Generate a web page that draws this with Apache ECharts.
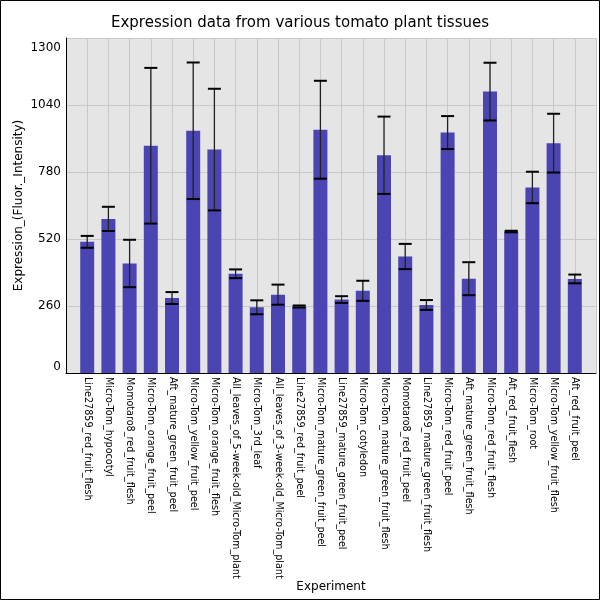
<!DOCTYPE html>
<html>
<head>
<meta charset="utf-8">
<script src="https://cdn.jsdelivr.net/npm/echarts@6/dist/echarts.min.js"></script>
<style>
html,body{margin:0;padding:0;background:#fff;}
#main{width:600px;height:600px;}
</style>
</head>
<body>
<div id="main"></div>
<script>
const categories = [
  "Line27859_red_fruit_flesh",
  "Micro-Tom_hypocotyl",
  "Momotaro8_red_fruit_flesh",
  "Micro-Tom_orange_fruit_peel",
  "Aft_mature_green_fruit_peel",
  "Micro-Tom_yellow_fruit_peel",
  "Micro-Tom_orange_fruit_flesh",
  "All_leaves_of_5-week-old_Micro-Tom_plant",
  "Micro-Tom_3rd_leaf",
  "All_leaves_of_3-week-old_Micro-Tom_plant",
  "Line27859_red_fruit_peel",
  "Micro-Tom_mature_green_fruit_peel",
  "Line27859_mature_green_fruit_peel",
  "Micro-Tom_cotyledon",
  "Micro-Tom_mature_green_fruit_flesh",
  "Momotaro8_red_fruit_peel",
  "Line27859_mature_green_fruit_flesh",
  "Micro-Tom_red_fruit_peel",
  "Aft_mature_green_fruit_flesh",
  "Micro-Tom_red_fruit_flesh",
  "Aft_red_fruit_flesh",
  "Micro-Tom_root",
  "Micro-Tom_yellow_fruit_flesh",
  "Aft_red_fruit_peel"
];
const values = [509, 598, 425, 882, 291, 940, 867, 385, 255, 304, 258, 944, 285, 319, 845, 452, 264, 933, 366, 1092, 549, 720, 892, 365];
const errors = [23, 47, 92, 302, 23, 265, 236, 17, 27, 39, 4, 190, 13, 39, 150, 49, 19, 64, 64, 112, 3, 61, 114, 17];
const yTicks = [0, 260, 520, 780, 1040, 1300];

const barData = values.map((v, i) => [i, v]);
const errData = values.map((v, i) => [i, v - errors[i], v + errors[i]]);

const chart = echarts.init(document.getElementById('main'), null, {renderer: 'canvas'});
const FONT = 'DejaVu Sans';
const yMax = yTicks[yTicks.length - 1];
chart.setOption({
  animation: false,
  backgroundColor: '#ffffff',
  textStyle: {fontFamily: FONT},
  title: {
    text: 'Expression data from various tomato plant tissues',
    left: 'center',
    top: 11,
    textStyle: {fontFamily: FONT, fontSize: 15, fontWeight: 'normal', color: '#000'}
  },
  grid: {left: 66, right: 4, top: 38, bottom: 227, backgroundColor: '#e5e5e5', show: true, borderWidth: 0,
         containLabel: false, outerBoundsMode: 'none'},
  xAxis: {
    type: 'value',
    min: -1,
    max: categories.length,
    interval: 1,
    name: 'Experiment',
    nameLocation: 'middle',
    nameGap: 208,
    nameMoveOverlap: false,
    nameTextStyle: {fontFamily: FONT, fontSize: 12, color: '#000'},
    axisLine: {show: true, onZero: false, lineStyle: {color: '#000', width: 1}},
    axisTick: {show: false},
    splitLine: {show: true, lineStyle: {color: '#c8c8c8', width: 1}},
    axisLabel: {
      rotate: -90,
      margin: 4,
      fontSize: 9.6,
      fontFamily: FONT,
      color: '#000',
      showMinLabel: true,
      showMaxLabel: true,
      formatter: function (v) { return categories[v] !== undefined ? categories[v] : ''; }
    }
  },
  yAxis: {
    type: 'value',
    min: yTicks[0],
    max: yMax,
    interval: yTicks[1] - yTicks[0],
    name: 'Expression_(Fluor._Intensity)',
    nameLocation: 'middle',
    nameGap: 41,
    nameRotate: 90,
    nameMoveOverlap: false,
    nameTextStyle: {fontFamily: FONT, fontSize: 12, color: '#000'},
    axisLine: {show: true, onZero: false, lineStyle: {color: '#000', width: 1}},
    axisTick: {show: false},
    splitLine: {show: true, lineStyle: {color: '#c8c8c8', width: 1}},
    axisLabel: {
      fontSize: 12,
      fontFamily: FONT,
      color: '#000',
      margin: 5,
      verticalAlignMinLabel: 'bottom',
      verticalAlignMaxLabel: 'top',
      formatter: function (v) { return v === yMax ? '{t|' + v + '}' : String(v); },
      rich: {t: {fontSize: 12, fontFamily: FONT, color: '#000', padding: [4, 0, 0, 0]}}
    }
  },
  series: [
    {
      type: 'bar',
      data: barData,
      barWidth: 14,
      itemStyle: {color: '#4b45b3'},
      z: 2
    },
    {
      type: 'custom',
      data: errData,
      z: 3,
      renderItem: function (params, api) {
        const x = api.value(0);
        const lo = api.coord([x, api.value(1)]);
        const hi = api.coord([x, api.value(2)]);
        const hw = 6.5;
        return {
          type: 'group',
          children: [
            {type: 'line', shape: {x1: lo[0], y1: lo[1], x2: hi[0], y2: hi[1]}, style: {stroke: '#222', lineWidth: 1.3}},
            {type: 'line', shape: {x1: lo[0] - hw, y1: lo[1], x2: lo[0] + hw, y2: lo[1]}, style: {stroke: '#000', lineWidth: 2}},
            {type: 'line', shape: {x1: hi[0] - hw, y1: hi[1], x2: hi[0] + hw, y2: hi[1]}, style: {stroke: '#000', lineWidth: 2}}
          ]
        };
      }
    }
  ],
  graphic: [
    {type: 'rect', z: 100, silent: true, shape: {x: 0.5, y: 0.5, width: 599, height: 599}, style: {fill: 'none', stroke: '#000', lineWidth: 1}}
  ]
});
</script>
</body>
</html>
